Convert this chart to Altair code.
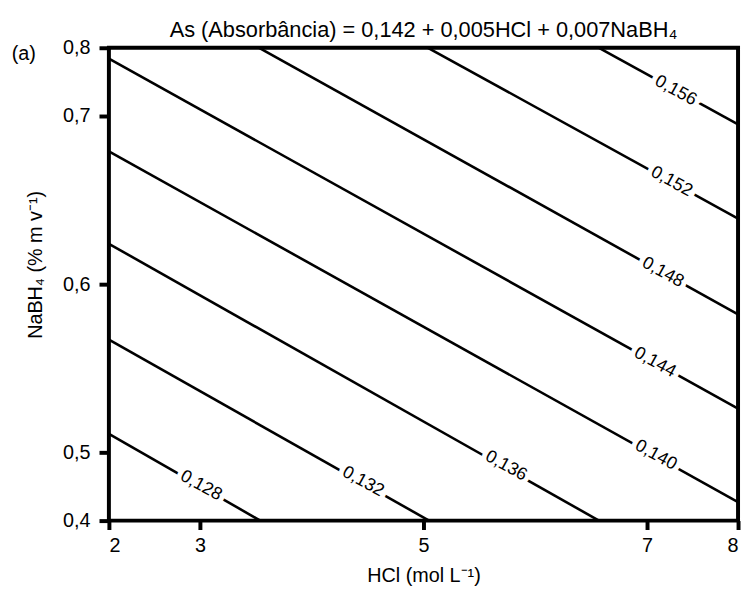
import altair as alt
import pandas as pd

# Contour levels and their straight segments (start/end points)
levels = ["0,128", "0,132", "0,136", "0,140", "0,144", "0,148", "0,152", "0,156"]
x_start = [2.0, 2.0, 2.0, 2.0, 2.0, 3.53, 5.04, 6.57]
y_start = [0.511, 0.567, 0.624, 0.679, 0.784, 0.8, 0.8, 0.8]
x_end = [3.54, 5.05, 6.57, 8.0, 8.0, 8.0, 8.0, 8.0]
y_end = [0.4, 0.4, 0.4, 0.427, 0.526, 0.582, 0.639, 0.695]
# label anchor positions on each contour
label_x = [3.01, 4.46, 5.74, 7.098, 7.087, 7.174, 7.27, 7.315]
label_y = [0.451, 0.457, 0.48, 0.4957, 0.5535, 0.607, 0.661, 0.737]

x_ticks = [2, 3, 5, 7, 8]
y_ticks = [0.4, 0.5, 0.6, 0.7, 0.8]

title_text = "As (Absorbância) = 0,142 + 0,005HCl + 0,007NaBH\u2084"
panel_tag = "(a)"

rows = []
for i, lv in enumerate(levels):
    rows.append({"level": lv, "o": 0, "hcl": x_start[i], "nabh": y_start[i]})
    rows.append({"level": lv, "o": 1, "hcl": x_end[i], "nabh": y_end[i]})
lines_df = pd.DataFrame(rows)
labels_df = pd.DataFrame({"level": levels, "hcl": label_x, "nabh": label_y})

W, H = 636, 478
FONT = "Liberation Sans"

xscale = alt.Scale(domain=[2, 3, 7, 8], range=[0, 92, 544, 636], zero=False, nice=False)
yscale = alt.Scale(domain=[0.4, 0.5, 0.7, 0.8], range=[478, 409, 69, 0], zero=False, nice=False)

xaxis = alt.Axis(
    values=x_ticks, format="d", title="HCl (mol L\u207b\u00b9)",
    tickSize=9, labelPadding=6, titleY=56, titleBaseline="middle",
)
yaxis = alt.Axis(
    values=y_ticks, labelExpr="replace(format(datum.value, '.1f'), '.', ',')",
    title="NaBH\u2084 (% m v\u207b\u00b9)", tickSize=10, labelPadding=9,
    titleX=-74, titleY=219, titleAngle=270, titleAlign="center", titleBaseline="middle",
)

lines = alt.Chart(lines_df).mark_line(color="black", strokeWidth=2.6).encode(
    x=alt.X("hcl:Q", scale=xscale, axis=xaxis),
    y=alt.Y("nabh:Q", scale=yscale, axis=yaxis),
    detail="level:N",
    order="o:Q",
)

halo = alt.Chart(labels_df).mark_text(
    font=FONT, fontSize=18, angle=29, stroke="white", strokeWidth=10, fill="white",
    align="center", baseline="middle",
).encode(
    x=alt.X("hcl:Q", scale=xscale),
    y=alt.Y("nabh:Q", scale=yscale),
    text="level:N",
)

texts = alt.Chart(labels_df).mark_text(
    font=FONT, fontSize=18, angle=29, color="black", align="center", baseline="middle",
).encode(
    x=alt.X("hcl:Q", scale=xscale),
    y=alt.Y("nabh:Q", scale=yscale),
    text="level:N",
)

title_mark = alt.Chart(pd.DataFrame({"t": [title_text]})).mark_text(
    font=FONT, fontSize=22, color="black", align="center", baseline="middle",
).encode(x=alt.value(318), y=alt.value(-18), text="t:N")

tag_mark = alt.Chart(pd.DataFrame({"t": [panel_tag]})).mark_text(
    font=FONT, fontSize=20, color="black", align="center", baseline="middle",
).encode(x=alt.value(-86), y=alt.value(6), text="t:N")

chart = alt.layer(lines, halo, texts, title_mark, tag_mark).properties(
    width=W, height=H,
    autosize=alt.AutoSizeParams(type="none"),
    padding={"left": 102, "top": 37, "right": 4, "bottom": 71},
).configure_view(
    stroke="black", strokeWidth=4,
).configure_axis(
    domain=False, grid=False, tickColor="black", tickWidth=4,
    labelFont=FONT, labelFontSize=20, labelColor="black",
    titleFont=FONT, titleFontSize=20, titleFontWeight="normal", titleColor="black",
)

chart.save("out.html", embed_options={"renderer": "svg", "actions": False})
